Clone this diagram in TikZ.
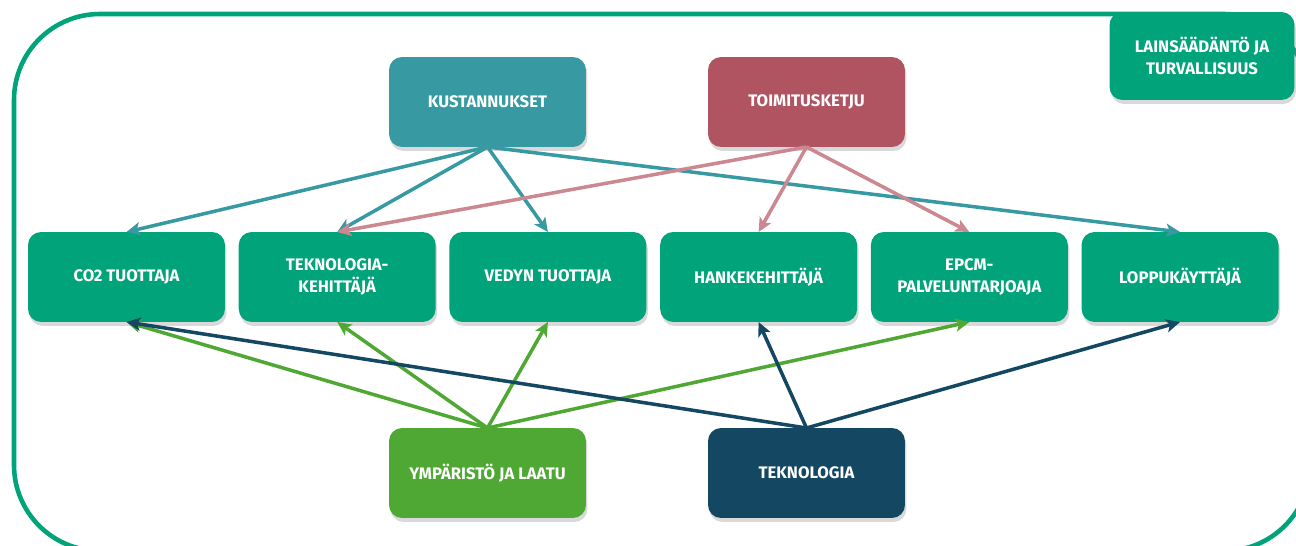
\documentclass[tikz,border=0pt]{standalone}
\usepackage{fontspec}
\setmainfont{Fira Sans}
\usepackage{tikz}
\usetikzlibrary{positioning}
\usetikzlibrary{arrows.meta}
\usetikzlibrary{shadows}

\definecolor{kustcol}{RGB}{55,153,162}
\definecolor{toimcol}{RGB}{176,84,98}
\definecolor{toimline}{RGB}{203,136,145}
\definecolor{rolecol}{RGB}{0,163,122}
\definecolor{ympcol}{RGB}{78,168,51}
\definecolor{tekncol}{RGB}{19,71,98}

\begin{document}
\begin{tikzpicture}[
        x=0.02cm, y=-0.02cm,
        basebox/.style={rectangle, rounded corners=0.26cm, minimum width=3.94cm, minimum height=1.8cm,
                        inner sep=0pt, outer sep=0pt, align=center, text=white, font=\bfseries\fontsize{9.5}{13}\selectfont,
                        drop shadow={opacity=0.3, shadow xshift=0.03cm, shadow yshift=-0.08cm}},
        rolenode/.style={basebox, fill=rolecol},
        kustnode/.style={basebox, fill=kustcol},
        toimnode/.style={basebox, fill=toimcol},
        ympnode/.style={basebox, fill=ympcol},
        teknnode/.style={basebox, fill=tekncol},
        arr/.style={line width=2pt, -{Stealth[length=8pt, width=7.5pt, inset=2pt]}},
        ]
        \useasboundingbox (0,0) rectangle (1296,546);
        \draw[rolecol, line width=2.6pt, rounded corners=1.72cm] (14,14) rectangle (1310,551);

        %Nodes
        \node[kustnode]  (kust)  at (487.5,102)  {KUSTANNUKSET};
        \node[toimnode]  (toim)  at (806.5,102)  {TOIMITUSKETJU};
        \node[rolenode]  (co2)   at (126.5,277)  {CO2 TUOTTAJA};
        \node[rolenode]  (tkeh)  [right=0.275cm of co2]  {TEKNOLOGIA-\\KEHITTÄJÄ};
        \node[rolenode]  (vedy)  [right=0.275cm of tkeh] {VEDYN TUOTTAJA};
        \node[rolenode]  (hank)  [right=0.275cm of vedy] {HANKEKEHITTÄJÄ};
        \node[rolenode]  (epcm)  [right=0.275cm of hank] {EPCM-\\PALVELUNTARJOAJA};
        \node[rolenode]  (lopp)  [right=0.275cm of epcm] {LOPPUKÄYTTÄJÄ};
        \node[ympnode]   (ymp)   at (487.5,473)  {YMPÄRISTÖ JA LAATU};
        \node[teknnode]  (tekn)  at (806.5,473)  {TEKNOLOGIA};
        \node[rolenode, minimum width=3.7cm, minimum height=1.76cm] (lain) at (1202,56) {LAINSÄÄDÄNTÖ JA\\TURVALLISUUS};

        %Lines
        \path[arr, kustcol] (kust.south) edge (co2.north)
                            (kust.south) edge (tkeh.north)
                            (kust.south) edge (vedy.north)
                            (kust.south) edge (lopp.north);
        \path[arr, toimline] (toim.south) edge (tkeh.north)
                             (toim.south) edge (hank.north)
                             (toim.south) edge (epcm.north);
        \path[arr, ympcol] (ymp.north) edge (co2.south)
                           (ymp.north) edge (tkeh.south)
                           (ymp.north) edge (vedy.south)
                           (ymp.north) edge (epcm.south);
        \path[arr, tekncol] (tekn.north) edge (co2.south)
                            (tekn.north) edge (hank.south)
                            (tekn.north) edge (lopp.south);
    \end{tikzpicture}
\end{document}
